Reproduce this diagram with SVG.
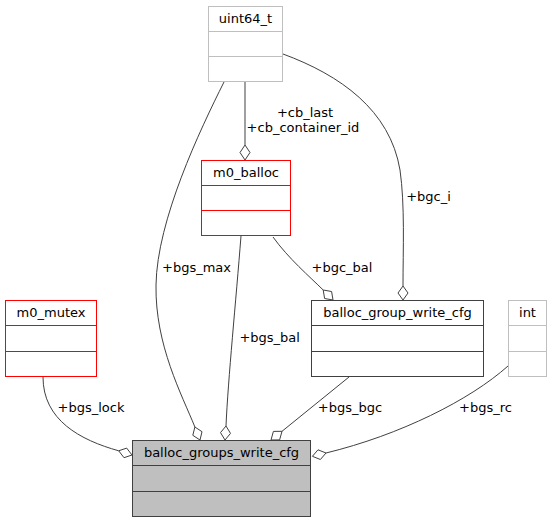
<svg xmlns="http://www.w3.org/2000/svg" width="552" height="523" viewBox="0 0 552 523">
<style>
text{font-family:"DejaVu Sans",sans-serif;font-size:13px;fill:#000;text-anchor:middle}
.n rect,.n line{fill:#fff;stroke-width:1}
.grey rect,.grey line{stroke:#bfbfbf}
.red rect,.red line{stroke:#ff0000}
.blk rect,.blk line{stroke:#404040}
.main rect{fill:#bfbfbf}
.main line{stroke:#404040}
.e path{fill:none;stroke:#404040;stroke-width:1}
.e polygon{fill:#fff;stroke:#404040;stroke-width:1}
</style>
<rect width="552" height="523" fill="#fff"/>
<g id="connectors" class="e">
<path d="M245,81.5 L245,145"/>
<polygon points="245,160 250,152.5 245,145 240,152.5"/>
<path d="M224,82 C200,130 157,220 156,285 C155,345 182,395 194.9,427"/>
<polygon points="200,440 202,431.7 194.9,427 192.8,435.3"/>
<path d="M241,236 C236,300 228,380 226,426"/>
<polygon points="225,440 230.5,433.4 226,426 220.5,432.6"/>
<path d="M273,237 C288,258 310,277 323.2,290"/>
<polygon points="333,300 331.6,291.5 323.2,290 324.6,298.5"/>
<path d="M283,54 C340,75 390,110 400,170 C405,205 403,250 403,286"/>
<polygon points="403,300 408,293 403,286 398,293"/>
<path d="M43,377 C43,420 80,440 118.7,450.8"/>
<polygon points="132,455 126.7,448.1 118.7,450.8 124,457.7"/>
<path d="M349,377 L282,431.3"/>
<polygon points="271,440 279.6,439.9 282,431.3 273.4,431.4"/>
<path d="M508,366 C470,400 400,435 326,453"/>
<polygon points="312.4,456.3 320.4,459.5 326,453 318,449.8"/>
<text x="305" y="117">+cb_last</text>
<text x="303" y="131.5">+cb_container_id</text>
<text x="196.5" y="272">+bgs_max</text>
<text x="269.7" y="342">+bgs_bal</text>
<text x="342" y="272">+bgc_bal</text>
<text x="428.5" y="201">+bgc_i</text>
<text x="91" y="412">+bgs_lock</text>
<text x="350" y="412">+bgs_bgc</text>
<text x="485.5" y="412">+bgs_rc</text>
</g>
<g id="uint64_t" class="n grey">
<rect x="208.5" y="6.5" width="74" height="75"/>
<line x1="208.5" y1="31.5" x2="282.5" y2="31.5"/>
<line x1="208.5" y1="56.5" x2="282.5" y2="56.5"/>
<text x="245.5" y="23">uint64_t</text>
</g>
<g id="m0_balloc" class="n red">
<rect x="201.5" y="160.5" width="89" height="75"/>
<line x1="201.5" y1="185.5" x2="290.5" y2="185.5"/>
<line x1="201.5" y1="210.5" x2="290.5" y2="210.5"/>
<text x="246" y="177">m0_balloc</text>
</g>
<g id="m0_mutex" class="n red">
<rect x="5.5" y="300.5" width="91" height="76"/>
<line x1="5.5" y1="325.5" x2="96.5" y2="325.5"/>
<line x1="5.5" y1="351.5" x2="96.5" y2="351.5"/>
<text x="51" y="317">m0_mutex</text>
</g>
<g id="balloc_group_write_cfg" class="n blk">
<rect x="311.5" y="300.5" width="172" height="76"/>
<line x1="311.5" y1="325.5" x2="483.5" y2="325.5"/>
<line x1="311.5" y1="351.5" x2="483.5" y2="351.5"/>
<text x="397.5" y="317">balloc_group_write_cfg</text>
</g>
<g id="int" class="n grey">
<rect x="508.5" y="300.5" width="38" height="76"/>
<line x1="508.5" y1="325.5" x2="546.5" y2="325.5"/>
<line x1="508.5" y1="351.5" x2="546.5" y2="351.5"/>
<text x="527.5" y="317">int</text>
</g>
<g id="balloc_groups_write_cfg" class="n blk main">
<rect x="132.5" y="440.5" width="178" height="76"/>
<line x1="132.5" y1="465.5" x2="310.5" y2="465.5"/>
<line x1="132.5" y1="491.5" x2="310.5" y2="491.5"/>
<text x="221.5" y="457">balloc_groups_write_cfg</text>
</g>
</svg>
